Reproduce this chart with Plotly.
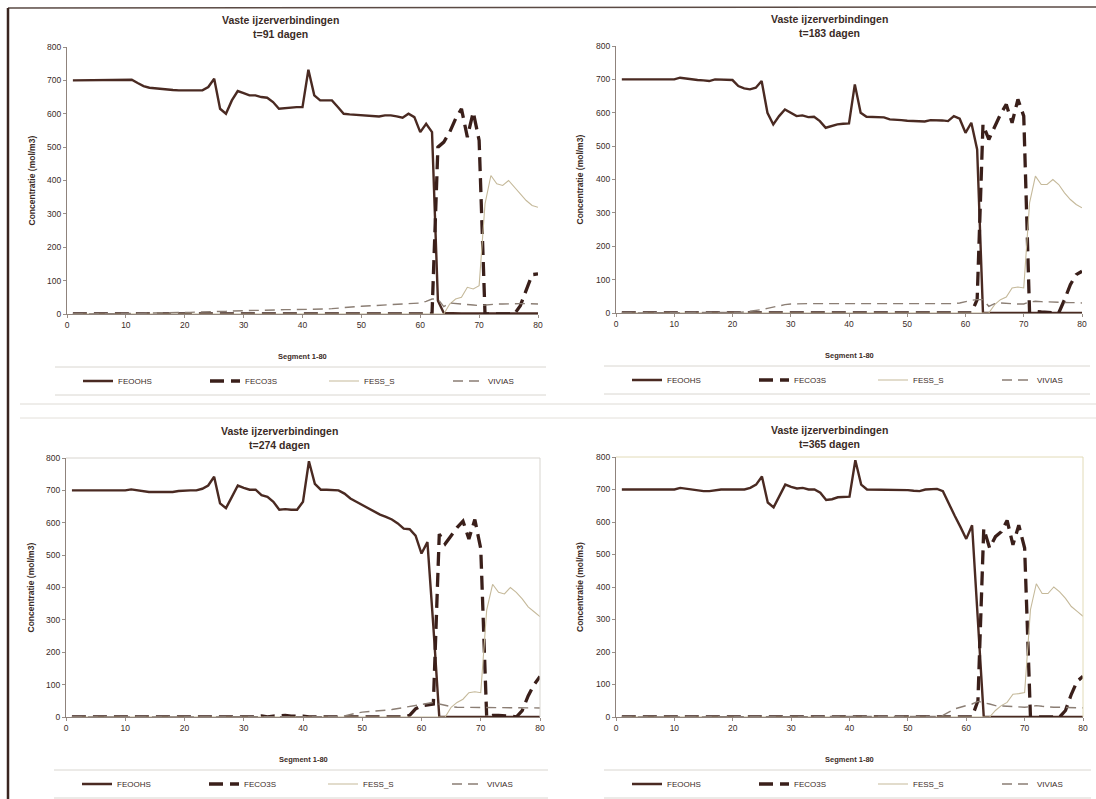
import plotly.graph_objects as go

W, H = 1096, 799

# Segment numbers along the column
segments = list(range(1, 81))

# ---- t = 91 dagen ----
feoohs_91 = [
    700, 700, 700, 700, 700, 700, 700, 700, 700, 700,
    702, 692, 683, 678, 676, 673, 672, 671, 670, 670,
    668, 668, 670, 680, 705, 615, 600, 640, 668, 662,
    655, 655, 650, 648, 635, 615, 617, 620, 620, 620,
    732, 655, 640, 640, 640, 620, 600, 598, 597, 595,
    593, 592, 592, 595, 595, 592, 588, 600, 590, 545,
    570, 545, 40, 3, 2, 2, 2, 2, 2, 2,
    2, 2, 2, 2, 2, 2, 2, 2, 2, 2,
]
feco3s_91 = [
    0, 0, 0, 0, 0, 0, 0, 0, 0, 0,
    0, 0, 0, 0, 0, 0, 0, 0, 0, 0,
    0, 0, 0, 0, 0, 0, 0, 0, 0, 0,
    0, 0, 0, 0, 0, 0, 0, 0, 0, 0,
    0, 0, 0, 0, 0, 0, 0, 0, 0, 0,
    0, 0, 0, 0, 0, 0, 0, 0, 0, 0,
    0, 0, 500, 515, 545, 585, 615, 530, 605, 520,
    0, 0, 0, 0, 0, 0, 25, 70, 118, 120,
]
fess_s_91 = [
    0, 0, 0, 0, 0, 0, 0, 0, 0, 0,
    0, 0, 0, 0, 0, 0, 0, 0, 0, 0,
    0, 0, 0, 0, 0, 0, 0, 0, 0, 0,
    0, 0, 0, 0, 0, 0, 0, 0, 0, 0,
    0, 0, 0, 0, 0, 0, 0, 0, 0, 0,
    0, 0, 0, 0, 0, 0, 0, 0, 0, 0,
    0, 0, 0, 0, 30, 45, 50, 80, 75, 85,
    330, 415, 390, 385, 400, 380, 360, 340, 325, 320,
]
vivias_91 = [
    0, 0, 0, 0, 0, 0, 0, 0, 0, 0,
    1, 2, 2, 3, 3, 4, 4, 4, 5, 5,
    5, 6, 6, 7, 7, 8, 8, 9, 10, 10,
    10, 11, 11, 12, 12, 12, 13, 13, 13, 13,
    14, 14, 15, 15, 16, 18, 20, 21, 22, 23,
    24, 25, 25, 25, 26, 27, 28, 29, 31, 33,
    38, 45, 45, 22, 33, 32, 30, 28, 27, 25,
    27, 29, 30, 30, 31, 31, 31, 31, 30, 30,
]

# ---- t = 183 dagen ----
feoohs_183 = [
    700, 700, 700, 700, 700, 700, 700, 700, 700, 700,
    705, 702, 700, 698, 697, 695, 700, 700, 700, 698,
    680, 673, 670, 675, 695, 600, 565, 590, 610, 600,
    590, 592, 587, 588, 575, 555, 560, 565, 567, 568,
    685, 600, 588, 587, 587, 586, 580, 580, 578, 576,
    575, 574, 574, 578, 578, 577, 575, 590, 582, 540,
    570, 490, 0, 0, 0, 0, 0, 0, 0, 0,
    0, 0, 0, 0, 0, 0, 0, 0, 0, 0,
]
feco3s_183 = [
    0, 0, 0, 0, 0, 0, 0, 0, 0, 0,
    0, 0, 0, 0, 0, 0, 0, 0, 0, 0,
    0, 0, 0, 0, 0, 0, 0, 0, 0, 0,
    0, 0, 0, 0, 0, 0, 0, 0, 0, 0,
    0, 0, 0, 0, 0, 0, 0, 0, 0, 0,
    0, 0, 0, 0, 0, 0, 0, 0, 0, 0,
    0, 40, 565, 520, 560, 595, 625, 570, 640, 590,
    0, 5, 3, 2, 0, 0, 40, 85, 115, 125,
]
fess_s_183 = [
    0, 0, 0, 0, 0, 0, 0, 0, 0, 0,
    0, 0, 0, 0, 0, 0, 0, 0, 0, 0,
    0, 0, 0, 0, 0, 0, 0, 0, 0, 0,
    0, 0, 0, 0, 0, 0, 0, 0, 0, 0,
    0, 0, 0, 0, 0, 0, 0, 0, 0, 0,
    0, 0, 0, 0, 0, 0, 0, 0, 0, 0,
    0, 0, 0, 0, 25, 40, 48, 75, 78, 75,
    330, 410, 385, 385, 400, 385, 360, 340, 325, 315,
]
vivias_183 = [
    0, 0, 0, 0, 0, 0, 0, 0, 0, 0,
    0, 0, 0, 0, 0, 0, 0, 0, 0, 1,
    2, 3, 5, 8, 10, 14, 18, 22, 25, 27,
    28, 28, 28, 28, 28, 28, 27, 27, 27, 27,
    27, 27, 27, 27, 27, 27, 27, 27, 27, 27,
    27, 27, 27, 27, 27, 27, 28, 28, 30, 35,
    38, 40, 40, 20, 28, 30, 30, 28, 27, 27,
    33, 35, 34, 33, 33, 32, 32, 31, 31, 30,
]

# ---- t = 274 dagen ----
feoohs_274 = [
    700, 700, 700, 700, 700, 700, 700, 700, 700, 700,
    703, 700, 698, 695, 695, 695, 697, 695, 698, 700,
    700, 700, 705, 715, 742, 660, 645, 680, 715, 708,
    702, 702, 685, 680, 665, 640, 642, 640, 640, 665,
    790, 720, 702, 702, 702, 700, 690, 675, 665, 655,
    645, 635, 625, 618, 610, 598, 582, 580, 560, 505,
    540, 280, 0, 0, 0, 0, 0, 0, 0, 0,
    0, 0, 0, 0, 0, 0, 0, 0, 0, 0,
]
feco3s_274 = [
    0, 0, 0, 0, 0, 0, 0, 0, 0, 0,
    0, 0, 0, 0, 0, 0, 0, 0, 0, 0,
    0, 0, 0, 0, 0, 0, 0, 0, 0, 0,
    0, 0, 3, 0, 3, 5, 5, 3, 4, 3,
    0, 0, 0, 0, 0, 0, 0, 0, 0, 0,
    0, 0, 0, 0, 0, 0, 0, 5, 25, 35,
    38, 40, 565, 535, 560, 585, 605, 550, 610, 520,
    0, 5, 5, 5, 3, 0, 20, 65, 100, 125,
]
fess_s_274 = [
    0, 0, 0, 0, 0, 0, 0, 0, 0, 0,
    0, 0, 0, 0, 0, 0, 0, 0, 0, 0,
    0, 0, 0, 0, 0, 0, 0, 0, 0, 0,
    0, 0, 0, 0, 0, 0, 0, 0, 0, 0,
    0, 0, 0, 0, 0, 0, 0, 0, 0, 0,
    0, 0, 0, 0, 0, 0, 0, 0, 0, 0,
    0, 0, 0, 0, 30, 45, 55, 75, 78, 75,
    330, 410, 385, 380, 400, 385, 365, 340, 325, 310,
]
vivias_274 = [
    0, 0, 0, 0, 0, 0, 0, 0, 0, 0,
    0, 0, 0, 0, 0, 0, 0, 0, 0, 0,
    0, 0, 0, 0, 0, 0, 0, 0, 0, 0,
    0, 0, 0, 0, 0, 0, 0, 0, 0, 0,
    0, 0, 0, 0, 0, 1, 3, 8, 12, 15,
    16, 17, 19, 21, 23, 26, 28, 32, 35, 38,
    42, 45, 40, 35, 32, 30, 30, 29, 28, 28,
    28, 29, 29, 29, 28, 28, 28, 28, 28, 28,
]

# ---- t = 365 dagen ----
feoohs_365 = [
    700, 700, 700, 700, 700, 700, 700, 700, 700, 700,
    705, 702, 700, 697, 695, 695, 698, 700, 700, 700,
    698, 700, 705, 715, 740, 660, 645, 680, 715, 708,
    703, 705, 700, 700, 690, 668, 670, 676, 678, 678,
    790, 715, 700, 700, 700, 700, 700, 698, 698, 698,
    696, 695, 700, 702, 702, 695, 660, 620, 585, 548,
    590, 300, 0, 0, 0, 0, 0, 0, 0, 0,
    0, 0, 0, 0, 0, 0, 0, 0, 0, 0,
]
feco3s_365 = [
    0, 0, 0, 0, 0, 0, 0, 0, 0, 0,
    0, 0, 0, 0, 0, 0, 0, 0, 0, 0,
    0, 0, 0, 0, 0, 0, 0, 0, 0, 0,
    0, 0, 0, 0, 0, 0, 0, 0, 0, 0,
    0, 0, 0, 0, 0, 0, 0, 0, 0, 0,
    0, 0, 0, 0, 0, 0, 0, 0, 0, 0,
    0, 50, 580, 520, 555, 570, 605, 530, 590, 520,
    0, 0, 0, 0, 0, 0, 20, 70, 110, 125,
]
fess_s_365 = [
    0, 0, 0, 0, 0, 0, 0, 0, 0, 0,
    0, 0, 0, 0, 0, 0, 0, 0, 0, 0,
    0, 0, 0, 0, 0, 0, 0, 0, 0, 0,
    0, 0, 0, 0, 0, 0, 0, 0, 0, 0,
    0, 0, 0, 0, 0, 0, 0, 0, 0, 0,
    0, 0, 0, 0, 0, 0, 0, 0, 0, 0,
    0, 0, 0, 0, 20, 35, 45, 70, 72, 75,
    330, 410, 380, 380, 400, 385, 365, 340, 325, 310,
]
vivias_365 = [
    0, 0, 0, 0, 0, 0, 0, 0, 0, 0,
    0, 0, 0, 0, 0, 0, 0, 0, 0, 0,
    0, 0, 0, 0, 0, 0, 0, 0, 0, 0,
    0, 0, 0, 0, 0, 0, 0, 0, 0, 0,
    0, 0, 0, 0, 0, 0, 0, 0, 0, 0,
    0, 0, 0, 0, 2, 5, 15, 25, 30, 35,
    40, 48, 45, 40, 35, 35, 33, 32, 31, 30,
    32, 35, 33, 31, 30, 30, 29, 29, 28, 28,
]

series_names = ["FEOOHS", "FECO3S", "FESS_S", "VIVIAS"]
panel_titles = ["t=91 dagen", "t=183 dagen", "t=274 dagen", "t=365 dagen"]
main_title = "Vaste ijzerverbindingen"
x_title = "Segment 1-80"
y_title = "Concentratie (mol/m3)"
x_ticks = [0, 10, 20, 30, 40, 50, 60, 70, 80]
y_ticks = [0, 100, 200, 300, 400, 500, 600, 700, 800]

panel_data = [
    [feoohs_91, feco3s_91, fess_s_91, vivias_91],
    [feoohs_183, feco3s_183, fess_s_183, vivias_183],
    [feoohs_274, feco3s_274, fess_s_274, vivias_274],
    [feoohs_365, feco3s_365, fess_s_365, vivias_365],
]

# Plot-area boxes in pixels: (left, right, top, bottom)
boxes = [
    (67, 538, 47, 314),
    (616, 1082, 46, 313),
    (66, 540, 458, 717),
    (616, 1083, 457, 717),
]
# Legend label start, in pixels right of the plot area's left edge
legend_text_offsets = [53, 180, 299, 423]

INK = "#3b2b26"
DARK = "#4a2a22"
styles = [
    dict(color=DARK, width=2.4, dash="solid"),
    dict(color="#3a1f1a", width=3.3, dash="14px,7px"),
    dict(color="#c5b99a", width=1.1, dash="solid"),
    dict(color="#8b7e74", width=1.4, dash="10px,6px"),
]
FONT = "Liberation Sans, Arial, sans-serif"


def fx(p):
    return p / W


def fy(p):
    return 1 - p / H


fig = go.Figure()
annotations = []
shapes = []
layout = {}
k = 0

for i, (box, data, sub) in enumerate(zip(boxes, panel_data, panel_titles)):
    l, r, t, b = box
    n = "" if i == 0 else str(i + 1)
    xa, ya = "xaxis" + n, "yaxis" + n
    for name, vals, st, off in zip(series_names, data, styles,
                                   legend_text_offsets):
        k += 1
        legend_id = "legend" if k == 1 else "legend%d" % k
        fig.add_trace(go.Scatter(
            x=segments, y=vals, mode="lines", name=name,
            line=dict(color=st["color"], width=st["width"], dash=st["dash"]),
            xaxis="x" + n, yaxis="y" + n, legend=legend_id,
            showlegend=True,
        ))
        layout[legend_id] = dict(
            orientation="h", x=fx(l + off - 42), xanchor="left",
            y=fy(b + 67), yanchor="middle", itemwidth=30,
            borderwidth=0, bgcolor="rgba(0,0,0,0)",
            font=dict(size=8, color=INK, family=FONT),
        )
    layout[xa] = dict(
        domain=[fx(l), fx(r)], range=[0, 80], anchor="y" + n,
        tickvals=x_ticks, ticks="outside", ticklen=3, tickcolor="#9a8f88",
        showgrid=False, zeroline=False, showline=True, linecolor="#8f837c",
        linewidth=1, tickfont=dict(size=8.5, color=INK, family=FONT),
    )
    layout[ya] = dict(
        domain=[fy(b), fy(t)], range=[0, 800], anchor="x" + n,
        tickvals=y_ticks, ticks="outside", ticklen=3, tickcolor="#9a8f88",
        showgrid=False, zeroline=False, showline=True, linecolor="#8f837c",
        linewidth=1, tickfont=dict(size=8.5, color=INK, family=FONT),
    )
    tx = l + 213
    common = dict(xref="paper", yref="paper", showarrow=False,
                  xanchor="center", yanchor="middle")
    annotations += [
        dict(text="<b>" + main_title + "</b>", x=fx(tx), y=fy(t - 27),
             font=dict(size=10.5, color=INK, family=FONT), **common),
        dict(text="<b>" + sub + "</b>", x=fx(tx), y=fy(t - 13),
             font=dict(size=10.5, color=INK, family=FONT), **common),
        dict(text="<b>" + x_title + "</b>", x=fx((l + r) / 2), y=fy(b + 42),
             font=dict(size=7.5, color=INK, family=FONT), **common),
        dict(text="<b>" + y_title + "</b>", x=fx(l - 36), y=fy((t + b) / 2),
             textangle=-90, font=dict(size=8.5, color=INK, family=FONT),
             **common),
    ]
    # faint rules above and below each legend row
    for yy in (b + 53, b + 81):
        shapes.append(dict(type="line", xref="paper", yref="paper",
                           x0=fx(l - 12), x1=fx(r + 8), y0=fy(yy), y1=fy(yy),
                           line=dict(color="#d9d6d0", width=1)))

# light frames round the lower two plot areas
for (l, r, t, b), col in zip(boxes[2:], ["#d8d5cf", "#e2dbb8"]):
    shapes.append(dict(type="line", xref="paper", yref="paper",
                       x0=fx(l), x1=fx(r), y0=fy(t), y1=fy(t),
                       line=dict(color=col, width=1)))
    shapes.append(dict(type="line", xref="paper", yref="paper",
                       x0=fx(r), x1=fx(r), y0=fy(t), y1=fy(b),
                       line=dict(color=col, width=1)))

# page border and separator between the two rows
shapes += [
    dict(type="line", xref="paper", yref="paper", x0=fx(8), x1=1,
         y0=fy(8), y1=fy(7), line=dict(color="#5a4a44", width=1.5)),
    dict(type="line", xref="paper", yref="paper", x0=fx(8), x1=fx(8),
         y0=fy(8), y1=0, line=dict(color="#3a2520", width=2.5)),
    dict(type="line", xref="paper", yref="paper", x0=fx(20), x1=1,
         y0=fy(404), y1=fy(404), line=dict(color="#dedbd5", width=1)),
    dict(type="line", xref="paper", yref="paper", x0=fx(20), x1=1,
         y0=fy(418), y1=fy(418), line=dict(color="#e3e0da", width=1)),
]

fig.update_layout(
    width=W, height=H,
    margin=dict(l=0, r=0, t=0, b=0, autoexpand=False),
    paper_bgcolor="white", plot_bgcolor="rgba(0,0,0,0)",
    annotations=annotations, shapes=shapes,
    font=dict(family=FONT, color=INK),
    **layout,
)

fig.write_html("out.html")
